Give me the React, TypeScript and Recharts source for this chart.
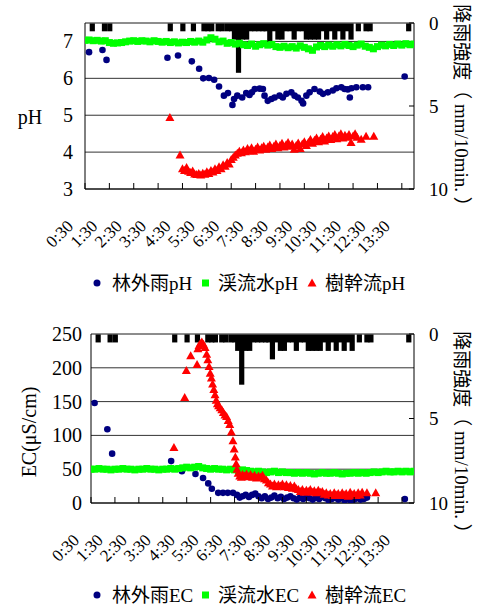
import React from 'react';
import { ComposedChart, XAxis, YAxis, CartesianGrid, Bar, Scatter, ReferenceLine } from 'recharts';

const FONT = "'Liberation Serif', 'Times New Roman', 'Noto Sans CJK JP', serif";

// x is minutes after 0:30
const xTicks = [0, 60, 120, 180, 240, 300, 360, 420, 480, 540, 600, 660, 720, 780];
const xLabels = ['0:30', '1:30', '2:30', '3:30', '4:30', '5:30', '6:30', '7:30', '8:30', '9:30', '10:30', '11:30', '12:30', '13:30'];
const phTicks = [3, 4, 5, 6, 7];
const ecTicks = [0, 50, 100, 150, 200, 250];
const rainTicks = [0, 5, 10];

// rainfall intensity, mm/10min
const rain: [number, number][] = [
  [18, 0.5], [48, 0.5], [61, 0.5], [210, 0.5], [241, 0.5], [267, 0.5], [293, 0.5], [303, 0.5], [312, 0.5],
  [328, 0.5], [338, 0.5], [351, 0.5], [361, 0.5], [368, 1.0], [378, 3.0], [388, 1.0], [398, 1.0], [408, 0.5],
  [418, 0.5], [428, 0.5], [438, 0.5], [446, 0.5], [455, 1.5], [465, 0.5], [475, 1.0], [485, 1.0], [495, 0.5],
  [505, 0.5], [515, 1.0], [525, 0.5], [535, 0.5], [545, 1.0], [555, 1.0], [565, 1.0], [575, 1.0], [585, 0.5],
  [595, 1.0], [605, 0.5], [615, 1.0], [625, 0.5], [635, 1.0], [645, 0.5], [655, 1.0], [673, 0.5], [692, 0.5],
  [702, 0.5], [797, 0.5],
];

// 林外雨pH
const rainOutPH: [number, number][] = [
  [10, 6.71], [43, 6.77], [53, 6.5], [203, 6.56], [229, 6.62], [263, 6.46], [281, 6.26], [291, 6.0], [305, 6.01],
  [318, 5.96], [330, 5.78], [342, 5.53], [352, 5.6], [363, 5.28], [367, 5.44], [375, 5.53], [387, 5.48], [397, 5.6],
  [405, 5.55], [411, 5.62], [418, 5.71], [430, 5.72], [438, 5.71], [442, 5.53], [450, 5.39], [459, 5.44], [467, 5.48],
  [479, 5.53], [487, 5.48], [496, 5.58], [508, 5.62], [516, 5.53], [524, 5.48], [533, 5.39], [537, 5.32], [545, 5.53],
  [553, 5.62], [565, 5.71], [578, 5.64], [586, 5.58], [598, 5.62], [610, 5.67], [619, 5.73], [631, 5.76], [639, 5.71],
  [647, 5.7], [652, 5.48], [656, 5.73], [668, 5.76], [684, 5.76], [697, 5.76], [787, 6.05],
];

// 渓流水pH, every 10 min from 0:30
const streamPH = [
  7.03, 7.04, 7.02, 7.03, 7.01, 7.02, 6.97, 6.95, 6.96, 6.97, 6.99, 7.01, 7.02, 7.0, 7.02, 7.01, 6.99, 7.02, 7.0, 6.98,
  7.0, 6.97, 6.99, 6.96, 6.98, 6.97, 7.0, 6.98, 7.01, 6.98, 7.04, 7.1, 7.06, 6.99, 7.01, 6.95, 6.97, 6.93, 6.95, 6.91,
  6.89, 6.93, 6.87, 6.91, 6.94, 6.9, 6.92, 6.86, 6.84, 6.87, 6.83, 6.86, 6.82, 6.88, 6.84, 6.8, 6.76, 6.85, 6.89, 6.86,
  6.9, 6.87, 6.91, 6.88, 6.92, 6.89, 6.86, 6.9, 6.93, 6.87, 6.84, 6.8, 6.86, 6.9, 6.88, 6.92, 6.89, 6.93, 6.9, 6.94,
  6.91, 6.93,
];

// 樹幹流pH
const stemPH: [number, number][] = [
  [209, 4.94], [234, 3.92], [240, 3.55], [245, 3.5], [250, 3.58], [255, 3.48], [260, 3.45], [265, 3.49], [270, 3.41],
  [275, 3.39], [280, 3.42], [285, 3.38], [290, 3.43], [295, 3.4], [300, 3.47], [305, 3.42], [310, 3.5], [315, 3.46],
  [320, 3.55], [325, 3.5], [330, 3.6], [335, 3.55], [340, 3.66], [345, 3.62], [350, 3.72], [355, 3.68], [360, 3.8],
  [365, 3.86], [370, 3.92], [375, 3.97], [380, 4.02], [385, 3.98], [390, 4.06], [395, 4.01], [400, 4.1], [405, 4.04],
  [410, 4.12], [415, 4.02], [420, 4.08], [425, 4.14], [430, 4.06], [435, 4.12], [440, 4.16], [445, 4.08], [450, 4.14],
  [455, 4.19], [460, 4.1], [465, 4.16], [470, 4.22], [475, 4.12], [480, 4.18], [485, 4.24], [490, 4.14], [495, 4.2],
  [500, 4.26], [505, 4.16], [510, 4.22], [515, 4.08], [520, 4.18], [525, 4.25], [530, 4.1], [535, 4.22], [540, 4.28],
  [545, 4.18], [550, 4.26], [555, 4.34], [560, 4.24], [565, 4.32], [570, 4.38], [575, 4.28], [580, 4.35], [585, 4.42],
  [590, 4.3], [595, 4.38], [600, 4.44], [605, 4.34], [610, 4.42], [615, 4.48], [620, 4.36], [625, 4.44], [630, 4.5],
  [635, 4.38], [640, 4.46], [645, 4.4], [650, 4.48], [655, 4.26], [660, 4.44], [665, 4.5], [670, 4.4], [680, 4.35],
  [692, 4.43], [711, 4.43],
];

// 林外雨EC
const rainOutEC: [number, number][] = [
  [9, 148], [41, 109], [53, 73], [201, 62], [228, 47], [262, 43], [281, 37], [294, 29], [303, 21], [319, 15], [331, 15],
  [343, 15], [356, 15], [366, 12], [373, 8], [380, 10], [388, 12], [396, 9], [404, 12], [412, 14], [420, 10], [428, 7],
  [436, 10], [444, 6], [452, 8], [460, 11], [468, 7], [476, 9], [484, 6], [492, 8], [500, 10], [508, 7], [516, 5],
  [524, 8], [532, 6], [540, 9], [548, 7], [556, 5], [564, 8], [572, 6], [580, 9], [588, 7], [596, 4], [604, 6],
  [612, 8], [620, 5], [628, 7], [636, 4], [644, 6], [652, 3], [660, 5], [668, 7], [676, 5], [684, 6], [692, 8],
  [787, 6],
];

// 渓流水EC, every 10 min from 0:30
const streamEC = [
  50, 50, 51, 50, 50, 49, 50, 50, 51, 50, 50, 49, 50, 50, 51, 50, 50, 49, 50, 50,
  51, 50, 51, 52, 53, 52, 53, 54, 52, 51, 50, 51, 50, 50, 49, 50, 49, 48, 49, 48,
  47, 46, 47, 46, 45, 46, 47, 45, 46, 45, 45, 44, 45, 44, 45, 44, 43, 44, 45, 44,
  44, 45, 44, 43, 44, 44, 45, 44, 45, 44, 45, 46, 45, 46, 47, 46, 46, 47, 46, 47,
  46, 47,
];

// 樹幹流EC
const stemEC: [number, number][] = [
  [208, 82], [235, 156], [239, 196], [250, 218], [266, 205], [268, 228], [271, 233], [274, 236], [278, 238], [282, 235],
  [286, 230], [290, 220], [293, 212], [296, 202], [299, 192], [302, 185], [305, 176], [308, 168], [311, 160], [314, 152],
  [317, 147], [320, 144], [324, 141], [328, 138], [332, 134], [336, 130], [340, 128], [344, 122], [348, 116], [352, 105],
  [356, 92], [359, 80], [362, 68], [364, 58], [366, 50], [369, 44], [373, 40], [377, 38], [380, 42], [385, 40],
  [390, 43], [395, 39], [400, 42], [405, 38], [410, 41], [415, 37], [420, 40], [425, 38], [430, 41], [435, 36],
  [440, 34], [445, 30], [450, 28], [455, 25], [460, 28], [465, 24], [470, 27], [475, 25], [480, 28], [485, 24],
  [490, 27], [495, 23], [500, 26], [505, 22], [510, 25], [515, 21], [520, 20], [525, 17], [530, 20], [535, 16],
  [540, 19], [545, 17], [550, 20], [555, 16], [560, 18], [565, 15], [570, 19], [575, 16], [580, 17], [585, 13],
  [590, 15], [595, 12], [600, 14], [605, 11], [610, 15], [615, 12], [620, 14], [625, 11], [630, 15], [635, 12],
  [640, 14], [645, 10], [650, 16], [655, 12], [660, 14], [665, 11], [670, 15], [675, 12], [680, 16], [692, 15],
  [714, 15],
];

const pairs = (pts: [number, number][]) => pts.map(([t, v]) => ({ t, v }));
const every10 = (vals: number[]) => vals.map((v, i) => ({ t: i * 10, v }));
const rainRows = rain.map(([t, mm]) => ({ t, mm }));

const NavyDot = (p: any) => <circle cx={p.cx} cy={p.cy} r={3.3} fill="#000080" />;
const GreenSq = (p: any) => <rect x={p.cx - 3.5} y={p.cy - 3.5} width={7} height={7} fill="#00ff00" />;
const RedTri = (p: any) => (
  <polygon points={`${p.cx},${p.cy - 4.5} ${p.cx + 4.5},${p.cy + 3.5} ${p.cx - 4.5},${p.cy + 3.5}`} fill="#ff0000" />
);

// rain bars hang from the top; keep a fixed width around the centre the library gives
const RainBar = (p: any) => {
  if (p.x == null || p.y == null) return null;
  const cx = p.x + (p.width || 0) / 2;
  const h = p.height || 0;
  const top = Math.min(p.y, p.y + h);
  return <rect x={cx - 2.6} y={top} width={5.2} height={Math.abs(h)} fill="#000" />;
};

const XTick = (props: any) => {
  const { x, y, payload } = props;
  const label = xLabels[xTicks.indexOf(payload.value)];
  return (
    <g>
      <line x1={x} y1={y} x2={x} y2={y - 6} stroke="#000" />
      <text transform={`translate(${x - 15},${y + 34}) rotate(-45)`} textAnchor="end" dy="0.35em" fontSize={17} fontFamily={FONT} fill="#000">
        {label}
      </text>
    </g>
  );
};

const makeLeftTick = (gap: number) => (props: any) => (
  <text x={props.x - gap} y={props.y} dy="0.35em" textAnchor="end" fontSize={20} fontFamily={FONT} fill="#000">
    {props.payload.value}
  </text>
);

const RightTick = (props: any) => (
  <g>
    <line x1={props.x - 5} y1={props.y} x2={props.x} y2={props.y} stroke="#000" />
    <text x={props.x + 15} y={props.y} dy="0.35em" textAnchor="start" fontSize={19} fontFamily={FONT} fill="#000">
      {props.payload.value}
    </text>
  </g>
);

interface PanelProps {
  height: number;
  plotTop: number;
  xAxisHeight: number;
  leftWidth: number;
  yId: string;
  yDomain: [number, number];
  yTicks: number[];
  yGap: number;
  navy: { t: number; v: number }[];
  green: { t: number; v: number }[];
  red: { t: number; v: number }[];
}

function Panel(p: PanelProps) {
  return (
    <ComposedChart width={478} height={p.height} data={rainRows} margin={{ top: p.plotTop, right: 0, bottom: 0, left: 0 }}>
      <CartesianGrid yAxisId={p.yId} vertical={false} stroke="#333" />
      <XAxis
        dataKey="t"
        type="number"
        domain={[0, 810]}
        ticks={xTicks}
        interval={0}
        allowDataOverflow
        height={p.xAxisHeight}
        axisLine={{ stroke: '#000' }}
        tickLine={false}
        tickSize={0}
        tickMargin={0}
        tick={XTick}
      />
      <YAxis
        yAxisId={p.yId}
        type="number"
        domain={p.yDomain}
        ticks={p.yTicks}
        interval={0}
        allowDataOverflow
        width={p.leftWidth}
        axisLine={{ stroke: '#000' }}
        tickLine={false}
        tickSize={0}
        tickMargin={0}
        tick={makeLeftTick(p.yGap)}
      />
      <YAxis
        yAxisId="rain"
        orientation="right"
        type="number"
        reversed
        domain={[0, 10]}
        ticks={rainTicks}
        interval={0}
        width={64}
        axisLine={{ stroke: '#000' }}
        tickLine={false}
        tickSize={0}
        tickMargin={0}
        tick={RightTick}
      />
      <ReferenceLine yAxisId={p.yId} y={p.yDomain[1]} stroke="#808080" />
      <Bar yAxisId="rain" dataKey="mm" fill="#000" barSize={4} shape={RainBar} isAnimationActive={false} />
      <Scatter yAxisId={p.yId} data={p.navy} dataKey="v" shape={NavyDot} isAnimationActive={false} />
      <Scatter yAxisId={p.yId} data={p.green} dataKey="v" shape={GreenSq} isAnimationActive={false} />
      <Scatter yAxisId={p.yId} data={p.red} dataKey="v" shape={RedTri} isAnimationActive={false} />
    </ComposedChart>
  );
}

function Legend({ y, suffix }: { y: number; suffix: string }) {
  const t = { fontSize: 19, fontFamily: FONT, fill: '#000' };
  return (
    <g>
      <circle cx={97} cy={y} r={3.5} fill="#000080" />
      <text x={112} y={y} dy="0.35em" {...t}>林外雨{suffix}</text>
      <rect x={202} y={y - 3.5} width={7} height={7} fill="#00ff00" />
      <text x={218} y={y} dy="0.35em" {...t}>渓流水{suffix}</text>
      <polygon points={`312,${y - 4.5} 316.5,${y + 3.5} 307.5,${y + 3.5}`} fill="#ff0000" />
      <text x={325} y={y} dy="0.35em" {...t}>樹幹流{suffix}</text>
    </g>
  );
}

export default function App() {
  const rainLabel = '降雨強度（ mm/10min. ）';
  return (
    <div style={{ position: 'absolute', left: 0, top: 0, width: 478, height: 605, background: '#fff' }}>
      <div style={{ position: 'absolute', left: 0, top: 0 }}>
        <Panel
          height={300}
          plotTop={23}
          xAxisHeight={111}
          leftWidth={85}
          yId="ph"
          yDomain={[3, 7.5]}
          yTicks={phTicks}
          yGap={12}
          navy={pairs(rainOutPH)}
          green={every10(streamPH)}
          red={pairs(stemPH)}
        />
      </div>
      <div style={{ position: 'absolute', left: 0, top: 310 }}>
        <Panel
          height={295}
          plotTop={24}
          xAxisHeight={102}
          leftWidth={91}
          yId="ec"
          yDomain={[0, 250]}
          yTicks={ecTicks}
          yGap={9}
          navy={pairs(rainOutEC)}
          green={every10(streamEC)}
          red={pairs(stemEC)}
        />
      </div>
      <svg width={478} height={605} style={{ position: 'absolute', left: 0, top: 0, pointerEvents: 'none' }}>
        <text x={30} y={117} dy="0.35em" textAnchor="middle" fontSize={20} fontFamily={FONT}>pH</text>
        <text transform="translate(29,432) rotate(-90)" dy="0.35em" textAnchor="middle" fontSize={20} fontFamily={FONT}>EC(μS/cm)</text>
        <text transform="translate(462,110) rotate(90)" dy="0.35em" textAnchor="middle" fontSize={19} fontFamily={FONT}>{rainLabel}</text>
        <text transform="translate(462,437) rotate(90)" dy="0.35em" textAnchor="middle" fontSize={19} fontFamily={FONT}>{rainLabel}</text>
        <Legend y={283} suffix="pH" />
        <Legend y={595} suffix="EC" />
      </svg>
    </div>
  );
}
